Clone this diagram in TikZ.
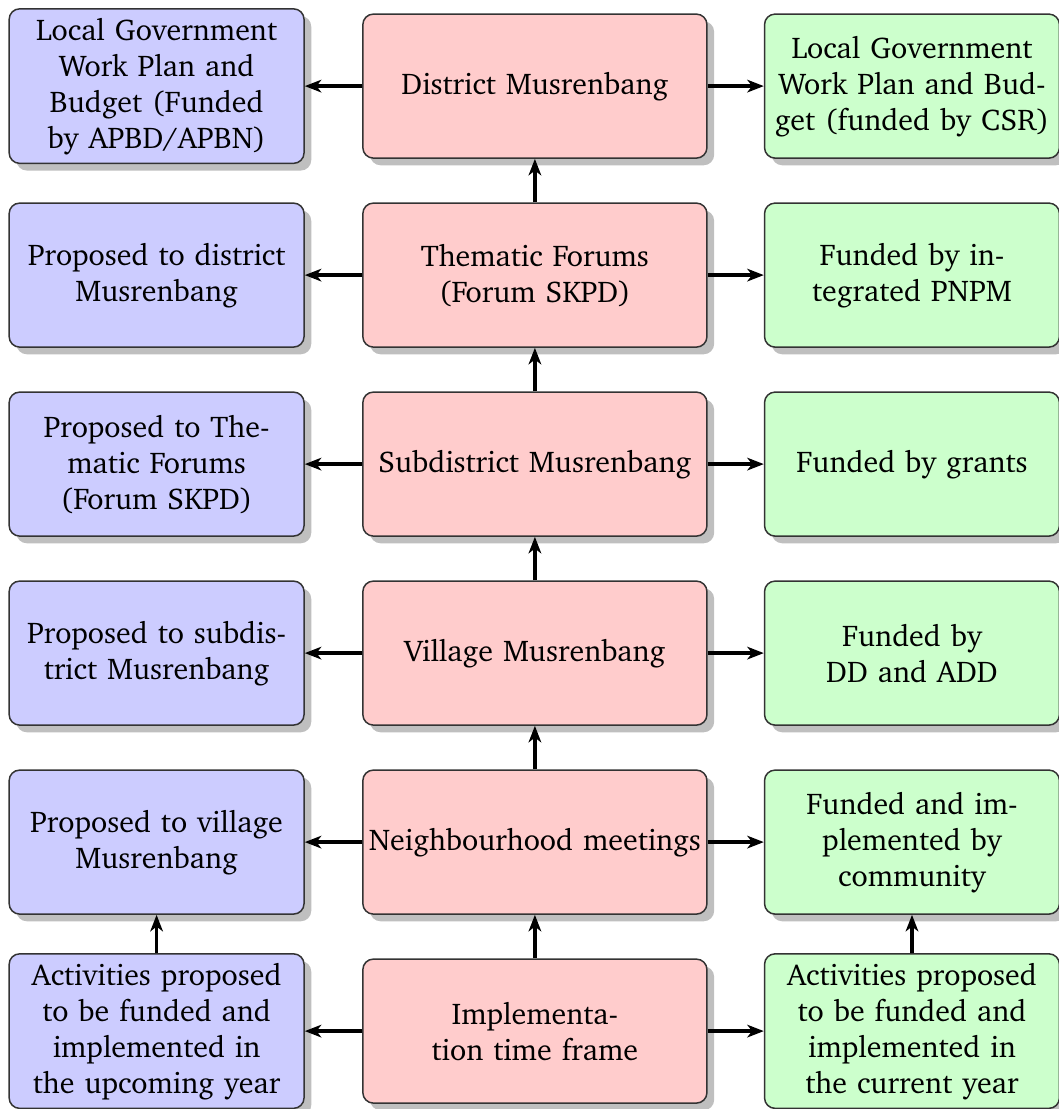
\documentclass[tikz,border=0pt]{standalone}
\usepackage[T1]{fontenc}
\usepackage{charter}
\usetikzlibrary{arrows.meta,shadows}
\begin{document}
\begin{tikzpicture}[x=1pt,y=1pt,
  box/.style={draw=black!80, line width=0.5pt, rounded corners=3.5pt, align=center,
    minimum height=48pt, inner sep=3pt, font=\fontsize{10pt}{12pt}\selectfont,
    drop shadow={shadow xshift=2.4pt, shadow yshift=-2.4pt, fill=black!25, opacity=1}},
  side/.style={box, minimum width=98.3pt, text width=92pt},
  lbox/.style={side, fill=blue!20},
  rbox/.style={side, fill=green!20},
  mbox/.style={box, fill=red!20, minimum width=114.7pt, text width=114pt, inner xsep=0.3pt},
  arr/.style={-{Stealth[length=5.5pt,width=4.2pt,inset=1.6pt]}, line width=1.1pt}]
\useasboundingbox (0,0) rectangle (353,-369.67);
\def\xl{52.2}\def\xm{178.3}\def\xr{304}
\node[mbox] (m1) at (\xm,-28.7) {District Musrenbang};
\node[mbox] (m2) at (\xm,-91.7) {Thematic Forums\\(Forum SKPD)};
\node[mbox] (m3) at (\xm,-154.7) {Subdistrict Musrenbang};
\node[mbox] (m4) at (\xm,-217.7) {Village Musrenbang};
\node[mbox] (m5) at (\xm,-280.7) {Neighbourhood meetings};
\node[mbox] (m6) at (\xm,-343.7) {Implementa-\\tion time frame};
\node[lbox] (l1) at (\xl,-28.7) {Local Government\\Work Plan and\\Budget (Funded\\by APBD/APBN)};
\node[lbox] (l2) at (\xl,-91.7) {Proposed to district\\Musrenbang};
\node[lbox] (l3) at (\xl,-154.7) {Proposed to The-\\matic Forums\\(Forum SKPD)};
\node[lbox] (l4) at (\xl,-217.7) {Proposed to subdis-\\trict Musrenbang};
\node[lbox] (l5) at (\xl,-280.7) {Proposed to village\\Musrenbang};
\node[lbox] (l6) at (\xl,-343.7) {Activities proposed\\to be funded and\\implemented in\\the upcoming year};
\node[rbox] (r1) at (\xr,-28.7) {Local Government\\Work Plan and Bud-\\get (funded by CSR)};
\node[rbox] (r2) at (\xr,-91.7) {Funded by in-\\tegrated PNPM};
\node[rbox] (r3) at (\xr,-154.7) {Funded by grants};
\node[rbox] (r4) at (\xr,-217.7) {Funded by\\DD and ADD};
\node[rbox] (r5) at (\xr,-280.7) {Funded and im-\\plemented by\\community};
\node[rbox] (r6) at (\xr,-343.7) {Activities proposed\\to be funded and\\implemented in\\the current year};
\foreach \i in {1,...,6}{
  \draw[arr] (m\i.west) -- (l\i.east);
  \draw[arr] (m\i.east) -- (r\i.west);
}
\foreach \i/\j in {2/1,3/2,4/3,5/4,6/5}{
  \draw[arr] (m\i.north) -- (m\j.south);
}
\draw[arr] (l6.north) -- (l5.south);
\draw[arr] (r6.north) -- (r5.south);
\end{tikzpicture}
\end{document}
